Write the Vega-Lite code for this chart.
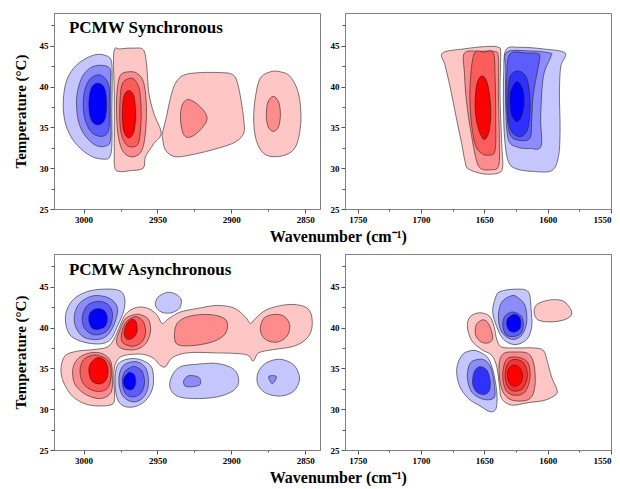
{
"$schema": "https://vega.github.io/schema/vega-lite/v6.json",
"background": "white",
"padding": {"left": 12, "top": 12, "right": 0, "bottom": 0},
"datasets": {
"tl": [
{"id":"b1","c":"n1","x":2981.3,"y":43.2},{"id":"b1","c":"n1","x":2985.1,"y":43.8},{"id":"b1","c":"n1","x":2991.8,"y":43.9},{"id":"b1","c":"n1","x":2999.7,"y":43.3},{"id":"b1","c":"n1","x":3006.9,"y":42.2},{"id":"b1","c":"n1","x":3011.7,"y":40.6},{"id":"b1","c":"n1","x":3013.7,"y":38.3},{"id":"b1","c":"n1","x":3012.8,"y":35.9},{"id":"b1","c":"n1","x":3008.7,"y":33.9},{"id":"b1","c":"n1","x":3002.0,"y":32.4},{"id":"b1","c":"n1","x":2994.1,"y":31.4},{"id":"b1","c":"n1","x":2986.2,"y":31.1},{"id":"b1","c":"n1","x":2982.2,"y":31.4},{"id":"b1","c":"n1","x":2980.8,"y":33.0},{"id":"b1","c":"n1","x":2980.8,"y":37.1},{"id":"b1","c":"n1","x":2980.6,"y":41.2},
{"id":"b2","c":"n2","x":2982.2,"y":42.2},{"id":"b2","c":"n2","x":2988.5,"y":42.6},{"id":"b2","c":"n2","x":2995.2,"y":42.3},{"id":"b2","c":"n2","x":3000.9,"y":41.2},{"id":"b2","c":"n2","x":3004.2,"y":39.3},{"id":"b2","c":"n2","x":3004.7,"y":37.5},{"id":"b2","c":"n2","x":3003.1,"y":35.5},{"id":"b2","c":"n2","x":2998.6,"y":33.9},{"id":"b2","c":"n2","x":2991.8,"y":32.8},{"id":"b2","c":"n2","x":2985.1,"y":32.7},{"id":"b2","c":"n2","x":2981.7,"y":33.5},{"id":"b2","c":"n2","x":2981.7,"y":37.1},{"id":"b2","c":"n2","x":2981.7,"y":40.4},
{"id":"b3","c":"n3","x":2988.5,"y":41.4},{"id":"b3","c":"n3","x":2995.2,"y":41.0},{"id":"b3","c":"n3","x":2999.3,"y":39.5},{"id":"b3","c":"n3","x":3000.2,"y":37.5},{"id":"b3","c":"n3","x":2998.6,"y":35.7},{"id":"b3","c":"n3","x":2994.1,"y":34.3},{"id":"b3","c":"n3","x":2987.3,"y":33.9},{"id":"b3","c":"n3","x":2983.0,"y":34.7},{"id":"b3","c":"n3","x":2982.6,"y":37.5},{"id":"b3","c":"n3","x":2983.0,"y":40.2},
{"id":"b4","c":"n5","x":2990.3,"y":40.4},{"id":"b4","c":"n5","x":2994.8,"y":39.8},{"id":"b4","c":"n5","x":2996.4,"y":37.8},{"id":"b4","c":"n5","x":2994.8,"y":35.9},{"id":"b4","c":"n5","x":2990.3,"y":35.3},{"id":"b4","c":"n5","x":2985.8,"y":35.9},{"id":"b4","c":"n5","x":2984.4,"y":37.8},{"id":"b4","c":"n5","x":2985.8,"y":39.8},
{"id":"r1","c":"p1","x":2979.5,"y":44.2},{"id":"r1","c":"p1","x":2975.0,"y":44.6},{"id":"r1","c":"p1","x":2965.9,"y":44.7},{"id":"r1","c":"p1","x":2959.6,"y":44.5},{"id":"r1","c":"p1","x":2957.4,"y":42.8},{"id":"r1","c":"p1","x":2955.8,"y":39.2},{"id":"r1","c":"p1","x":2952.4,"y":36.7},{"id":"r1","c":"p1","x":2947.5,"y":34.3},{"id":"r1","c":"p1","x":2952.4,"y":33.0},{"id":"r1","c":"p1","x":2958.1,"y":31.4},{"id":"r1","c":"p1","x":2959.6,"y":30.0},{"id":"r1","c":"p1","x":2968.2,"y":29.7},{"id":"r1","c":"p1","x":2976.1,"y":29.6},{"id":"r1","c":"p1","x":2979.0,"y":30.2},{"id":"r1","c":"p1","x":2979.2,"y":33.0},{"id":"r1","c":"p1","x":2979.2,"y":39.1},
{"id":"r2","c":"p2","x":2969.3,"y":41.8},{"id":"r2","c":"p2","x":2975.0,"y":41.4},{"id":"r2","c":"p2","x":2977.2,"y":39.6},{"id":"r2","c":"p2","x":2977.7,"y":37.1},{"id":"r2","c":"p2","x":2976.8,"y":34.3},{"id":"r2","c":"p2","x":2973.8,"y":32.2},{"id":"r2","c":"p2","x":2968.2,"y":31.4},{"id":"r2","c":"p2","x":2961.9,"y":31.8},{"id":"r2","c":"p2","x":2958.7,"y":33.5},{"id":"r2","c":"p2","x":2957.4,"y":37.1},{"id":"r2","c":"p2","x":2959.2,"y":40.4},{"id":"r2","c":"p2","x":2963.7,"y":41.6},
{"id":"r3","c":"p3","x":2968.6,"y":41.0},{"id":"r3","c":"p3","x":2973.8,"y":40.3},{"id":"r3","c":"p3","x":2975.4,"y":37.9},{"id":"r3","c":"p3","x":2975.0,"y":34.7},{"id":"r3","c":"p3","x":2971.6,"y":33.0},{"id":"r3","c":"p3","x":2967.1,"y":32.6},{"id":"r3","c":"p3","x":2962.6,"y":33.2},{"id":"r3","c":"p3","x":2961.0,"y":36.3},{"id":"r3","c":"p3","x":2961.9,"y":39.3},{"id":"r3","c":"p3","x":2964.8,"y":40.7},
{"id":"r4","c":"p5","x":2969.3,"y":39.5},{"id":"r4","c":"p5","x":2972.7,"y":38.8},{"id":"r4","c":"p5","x":2973.8,"y":36.6},{"id":"r4","c":"p5","x":2972.7,"y":34.5},{"id":"r4","c":"p5","x":2969.3,"y":33.7},{"id":"r4","c":"p5","x":2965.9,"y":34.5},{"id":"r4","c":"p5","x":2964.8,"y":36.6},{"id":"r4","c":"p5","x":2965.9,"y":38.8},
{"id":"m1","c":"p1","x":2946.6,"y":34.3},{"id":"m1","c":"p1","x":2943.9,"y":36.3},{"id":"m1","c":"p1","x":2941.2,"y":38.6},{"id":"m1","c":"p1","x":2937.8,"y":40.4},{"id":"m1","c":"p1","x":2932.2,"y":41.4},{"id":"m1","c":"p1","x":2920.9,"y":41.7},{"id":"m1","c":"p1","x":2907.4,"y":41.7},{"id":"m1","c":"p1","x":2899.5,"y":41.5},{"id":"m1","c":"p1","x":2896.1,"y":40.6},{"id":"m1","c":"p1","x":2893.4,"y":38.3},{"id":"m1","c":"p1","x":2891.6,"y":35.9},{"id":"m1","c":"p1","x":2891.6,"y":34.3},{"id":"m1","c":"p1","x":2897.3,"y":33.2},{"id":"m1","c":"p1","x":2909.7,"y":32.4},{"id":"m1","c":"p1","x":2925.4,"y":31.7},{"id":"m1","c":"p1","x":2937.8,"y":31.4},{"id":"m1","c":"p1","x":2944.5,"y":32.2},{"id":"m1","c":"p1","x":2946.6,"y":33.7},
{"id":"m2","c":"p2","x":2928.8,"y":38.4},{"id":"m2","c":"p2","x":2933.3,"y":37.7},{"id":"m2","c":"p2","x":2934.4,"y":35.9},{"id":"m2","c":"p2","x":2932.2,"y":34.1},{"id":"m2","c":"p2","x":2927.7,"y":33.8},{"id":"m2","c":"p2","x":2920.9,"y":34.7},{"id":"m2","c":"p2","x":2916.4,"y":36.1},{"id":"m2","c":"p2","x":2920.9,"y":37.5},
{"id":"k1","c":"p1","x":2873.6,"y":41.8},{"id":"k1","c":"p1","x":2880.4,"y":41.0},{"id":"k1","c":"p1","x":2883.7,"y":38.7},{"id":"k1","c":"p1","x":2884.9,"y":35.9},{"id":"k1","c":"p1","x":2883.1,"y":33.4},{"id":"k1","c":"p1","x":2878.1,"y":31.8},{"id":"k1","c":"p1","x":2870.2,"y":31.4},{"id":"k1","c":"p1","x":2861.2,"y":31.8},{"id":"k1","c":"p1","x":2855.6,"y":33.0},{"id":"k1","c":"p1","x":2852.9,"y":35.9},{"id":"k1","c":"p1","x":2854.5,"y":39.1},{"id":"k1","c":"p1","x":2860.1,"y":41.2},{"id":"k1","c":"p1","x":2866.8,"y":41.8},
{"id":"k2","c":"p2","x":2871.6,"y":38.8},{"id":"k2","c":"p2","x":2875.2,"y":38.1},{"id":"k2","c":"p2","x":2876.3,"y":36.6},{"id":"k2","c":"p2","x":2875.2,"y":35.1},{"id":"k2","c":"p2","x":2871.6,"y":34.5},{"id":"k2","c":"p2","x":2868.0,"y":35.1},{"id":"k2","c":"p2","x":2866.8,"y":36.6},{"id":"k2","c":"p2","x":2868.0,"y":38.1}
],
"tr": [
{"id":"r1","c":"p1","x":1683.1,"y":44.1},{"id":"r1","c":"p1","x":1666.5,"y":44.6},{"id":"r1","c":"p1","x":1648.1,"y":44.9},{"id":"r1","c":"p1","x":1638.9,"y":44.8},{"id":"r1","c":"p1","x":1637.1,"y":44.0},{"id":"r1","c":"p1","x":1637.6,"y":39.1},{"id":"r1","c":"p1","x":1636.3,"y":33.0},{"id":"r1","c":"p1","x":1635.5,"y":30.2},{"id":"r1","c":"p1","x":1638.9,"y":29.4},{"id":"r1","c":"p1","x":1650.7,"y":29.3},{"id":"r1","c":"p1","x":1662.6,"y":29.9},{"id":"r1","c":"p1","x":1665.2,"y":30.8},{"id":"r1","c":"p1","x":1667.9,"y":33.0},{"id":"r1","c":"p1","x":1672.3,"y":36.3},{"id":"r1","c":"p1","x":1677.1,"y":40.0},{"id":"r1","c":"p1","x":1681.0,"y":42.6},
{"id":"r2","c":"p2","x":1665.7,"y":44.1},{"id":"r2","c":"p2","x":1653.4,"y":44.3},{"id":"r2","c":"p2","x":1642.3,"y":44.3},{"id":"r2","c":"p2","x":1638.9,"y":43.6},{"id":"r2","c":"p2","x":1638.9,"y":39.1},{"id":"r2","c":"p2","x":1638.1,"y":33.0},{"id":"r2","c":"p2","x":1638.9,"y":30.2},{"id":"r2","c":"p2","x":1645.5,"y":29.8},{"id":"r2","c":"p2","x":1652.1,"y":29.9},{"id":"r2","c":"p2","x":1656.0,"y":30.8},{"id":"r2","c":"p2","x":1660.0,"y":33.9},{"id":"r2","c":"p2","x":1663.9,"y":37.9},{"id":"r2","c":"p2","x":1665.7,"y":41.6},
{"id":"r3","c":"p3","x":1658.1,"y":44.0},{"id":"r3","c":"p3","x":1650.2,"y":44.2},{"id":"r3","c":"p3","x":1642.9,"y":44.1},{"id":"r3","c":"p3","x":1641.5,"y":41.2},{"id":"r3","c":"p3","x":1641.0,"y":35.9},{"id":"r3","c":"p3","x":1641.5,"y":32.2},{"id":"r3","c":"p3","x":1646.0,"y":31.6},{"id":"r3","c":"p3","x":1652.1,"y":31.8},{"id":"r3","c":"p3","x":1657.4,"y":33.0},{"id":"r3","c":"p3","x":1660.7,"y":36.3},{"id":"r3","c":"p3","x":1661.3,"y":40.0},
{"id":"r4","c":"p5","x":1652.1,"y":41.3},{"id":"r4","c":"p5","x":1656.0,"y":40.2},{"id":"r4","c":"p5","x":1657.3,"y":37.5},{"id":"r4","c":"p5","x":1655.2,"y":35.1},{"id":"r4","c":"p5","x":1650.2,"y":33.5},{"id":"r4","c":"p5","x":1646.0,"y":34.7},{"id":"r4","c":"p5","x":1645.0,"y":37.5},{"id":"r4","c":"p5","x":1647.6,"y":40.4},
{"id":"b1","c":"n1","x":1632.9,"y":44.5},{"id":"b1","c":"n1","x":1621.8,"y":44.8},{"id":"b1","c":"n1","x":1603.4,"y":44.6},{"id":"b1","c":"n1","x":1586.3,"y":44.1},{"id":"b1","c":"n1","x":1589.7,"y":42.4},{"id":"b1","c":"n1","x":1590.7,"y":39.1},{"id":"b1","c":"n1","x":1590.2,"y":34.7},{"id":"b1","c":"n1","x":1591.5,"y":31.4},{"id":"b1","c":"n1","x":1596.8,"y":29.7},{"id":"b1","c":"n1","x":1611.3,"y":29.6},{"id":"b1","c":"n1","x":1624.4,"y":29.9},{"id":"b1","c":"n1","x":1631.0,"y":30.8},{"id":"b1","c":"n1","x":1633.9,"y":33.5},{"id":"b1","c":"n1","x":1634.9,"y":37.5},{"id":"b1","c":"n1","x":1634.7,"y":41.6},
{"id":"b2","c":"n2","x":1632.3,"y":44.2},{"id":"b2","c":"n2","x":1613.9,"y":44.35},{"id":"b2","c":"n2","x":1598.1,"y":44.1},{"id":"b2","c":"n2","x":1597.6,"y":43.6},{"id":"b2","c":"n2","x":1603.4,"y":41.2},{"id":"b2","c":"n2","x":1605.5,"y":36.3},{"id":"b2","c":"n2","x":1605.2,"y":32.7},{"id":"b2","c":"n2","x":1613.9,"y":32.4},{"id":"b2","c":"n2","x":1624.4,"y":32.6},{"id":"b2","c":"n2","x":1631.0,"y":33.5},{"id":"b2","c":"n2","x":1633.1,"y":37.1},{"id":"b2","c":"n2","x":1633.1,"y":42.0},
{"id":"b3","c":"n3","x":1629.7,"y":44.0},{"id":"b3","c":"n3","x":1616.5,"y":44.1},{"id":"b3","c":"n3","x":1607.3,"y":44.0},{"id":"b3","c":"n3","x":1606.5,"y":43.2},{"id":"b3","c":"n3","x":1611.3,"y":39.1},{"id":"b3","c":"n3","x":1612.6,"y":35.9},{"id":"b3","c":"n3","x":1613.9,"y":33.7},{"id":"b3","c":"n3","x":1621.8,"y":33.4},{"id":"b3","c":"n3","x":1629.7,"y":34.1},{"id":"b3","c":"n3","x":1632.3,"y":37.1},{"id":"b3","c":"n3","x":1632.3,"y":41.2},
{"id":"b4","c":"n4","x":1623.1,"y":41.9},{"id":"b4","c":"n4","x":1629.7,"y":41.2},{"id":"b4","c":"n4","x":1631.5,"y":38.7},{"id":"b4","c":"n4","x":1631.0,"y":35.9},{"id":"b4","c":"n4","x":1627.6,"y":34.3},{"id":"b4","c":"n4","x":1620.5,"y":33.9},{"id":"b4","c":"n4","x":1615.2,"y":35.1},{"id":"b4","c":"n4","x":1613.9,"y":38.3},{"id":"b4","c":"n4","x":1616.5,"y":41.0},
{"id":"b5","c":"n5","x":1624.4,"y":40.6},{"id":"b5","c":"n5","x":1628.9,"y":39.5},{"id":"b5","c":"n5","x":1629.7,"y":38.1},{"id":"b5","c":"n5","x":1628.4,"y":36.5},{"id":"b5","c":"n5","x":1624.4,"y":35.7},{"id":"b5","c":"n5","x":1620.5,"y":36.4},{"id":"b5","c":"n5","x":1618.6,"y":38.1},{"id":"b5","c":"n5","x":1619.9,"y":39.75}
],
"bl": [
{"id":"pk","c":"p1","x":3015.0,"y":35.4},{"id":"pk","c":"p1","x":3012.1,"y":36.6},{"id":"pk","c":"p1","x":3004.2,"y":37.1},{"id":"pk","c":"p1","x":2993.0,"y":37.3},{"id":"pk","c":"p1","x":2984.0,"y":37.6},{"id":"pk","c":"p1","x":2979.5,"y":38.55},{"id":"pk","c":"p1","x":2976.1,"y":39.9},{"id":"pk","c":"p1","x":2972.7,"y":41.3},{"id":"pk","c":"p1","x":2968.6,"y":42.1},{"id":"pk","c":"p1","x":2962.6,"y":42.5},{"id":"pk","c":"p1","x":2955.8,"y":42.3},{"id":"pk","c":"p1","x":2950.2,"y":41.5},{"id":"pk","c":"p1","x":2946.8,"y":40.5},{"id":"pk","c":"p1","x":2942.3,"y":41.1},{"id":"pk","c":"p1","x":2934.4,"y":41.9},{"id":"pk","c":"p1","x":2920.9,"y":42.4},{"id":"pk","c":"p1","x":2909.6,"y":42.7},{"id":"pk","c":"p1","x":2898.4,"y":42.4},{"id":"pk","c":"p1","x":2890.5,"y":41.3},{"id":"pk","c":"p1","x":2887.1,"y":40.5},{"id":"pk","c":"p1","x":2883.7,"y":41.1},{"id":"pk","c":"p1","x":2875.9,"y":42.2},{"id":"pk","c":"p1","x":2862.3,"y":42.8},{"id":"pk","c":"p1","x":2851.1,"y":42.6},{"id":"pk","c":"p1","x":2846.1,"y":41.7},{"id":"pk","c":"p1","x":2845.5,"y":39.9},{"id":"pk","c":"p1","x":2849.3,"y":38.6},{"id":"pk","c":"p1","x":2857.8,"y":37.7},{"id":"pk","c":"p1","x":2871.4,"y":37.3},{"id":"pk","c":"p1","x":2881.5,"y":36.9},{"id":"pk","c":"p1","x":2885.3,"y":35.9},{"id":"pk","c":"p1","x":2890.5,"y":36.7},{"id":"pk","c":"p1","x":2911.9,"y":36.9},{"id":"pk","c":"p1","x":2929.9,"y":36.9},{"id":"pk","c":"p1","x":2940.0,"y":36.3},{"id":"pk","c":"p1","x":2944.5,"y":35.2},{"id":"pk","c":"p1","x":2948.4,"y":35.4},{"id":"pk","c":"p1","x":2952.4,"y":36.2},{"id":"pk","c":"p1","x":2959.2,"y":36.7},{"id":"pk","c":"p1","x":2968.2,"y":36.7},{"id":"pk","c":"p1","x":2975.4,"y":36.35},{"id":"pk","c":"p1","x":2979.0,"y":35.2},{"id":"pk","c":"p1","x":2979.5,"y":33.5},{"id":"pk","c":"p1","x":2979.0,"y":31.7},{"id":"pk","c":"p1","x":2980.6,"y":30.6},{"id":"pk","c":"p1","x":2990.7,"y":30.4},{"id":"pk","c":"p1","x":2999.7,"y":30.7},{"id":"pk","c":"p1","x":3007.6,"y":31.6},{"id":"pk","c":"p1","x":3012.8,"y":33.0},{"id":"pk","c":"p1","x":3015.0,"y":34.2},
{"id":"ba1","c":"n1","x":2986.2,"y":44.7},{"id":"ba1","c":"n1","x":2997.5,"y":44.4},{"id":"ba1","c":"n1","x":3006.5,"y":43.5},{"id":"ba1","c":"n1","x":3011.4,"y":42.1},{"id":"ba1","c":"n1","x":3012.1,"y":40.5},{"id":"ba1","c":"n1","x":3008.7,"y":39.0},{"id":"ba1","c":"n1","x":2999.7,"y":38.2},{"id":"ba1","c":"n1","x":2988.5,"y":38.0},{"id":"ba1","c":"n1","x":2981.7,"y":38.55},{"id":"ba1","c":"n1","x":2977.2,"y":40.1},{"id":"ba1","c":"n1","x":2972.7,"y":42.1},{"id":"ba1","c":"n1","x":2972.3,"y":43.7},{"id":"ba1","c":"n1","x":2976.1,"y":44.55},
{"id":"ba2","c":"n2","x":2993.0,"y":43.9},{"id":"ba2","c":"n2","x":3002.0,"y":43.1},{"id":"ba2","c":"n2","x":3006.0,"y":41.7},{"id":"ba2","c":"n2","x":3005.4,"y":40.1},{"id":"ba2","c":"n2","x":2999.7,"y":38.8},{"id":"ba2","c":"n2","x":2989.6,"y":38.55},{"id":"ba2","c":"n2","x":2982.8,"y":39.25},{"id":"ba2","c":"n2","x":2978.3,"y":40.9},{"id":"ba2","c":"n2","x":2977.2,"y":42.5},{"id":"ba2","c":"n2","x":2982.8,"y":43.6},
{"id":"ba3","c":"n3","x":2990.7,"y":43.2},{"id":"ba3","c":"n3","x":2997.5,"y":42.7},{"id":"ba3","c":"n3","x":3000.9,"y":41.3},{"id":"ba3","c":"n3","x":2999.3,"y":39.9},{"id":"ba3","c":"n3","x":2993.0,"y":39.1},{"id":"ba3","c":"n3","x":2985.1,"y":39.45},{"id":"ba3","c":"n3","x":2981.3,"y":40.5},{"id":"ba3","c":"n3","x":2980.6,"y":41.9},{"id":"ba3","c":"n3","x":2984.0,"y":42.9},
{"id":"ba4","c":"n5","x":2990.7,"y":42.3},{"id":"ba4","c":"n5","x":2995.2,"y":41.9},{"id":"ba4","c":"n5","x":2996.4,"y":40.9},{"id":"ba4","c":"n5","x":2994.1,"y":39.9},{"id":"ba4","c":"n5","x":2989.6,"y":39.8},{"id":"ba4","c":"n5","x":2985.1,"y":40.2},{"id":"ba4","c":"n5","x":2984.0,"y":41.3},{"id":"ba4","c":"n5","x":2986.2,"y":42.1},
{"id":"rb2","c":"p2","x":2964.8,"y":41.6},{"id":"rb2","c":"p2","x":2971.5,"y":41.1},{"id":"rb2","c":"p2","x":2975.5,"y":39.7},{"id":"rb2","c":"p2","x":2977.7,"y":38.2},{"id":"rb2","c":"p2","x":2973.8,"y":37.4},{"id":"rb2","c":"p2","x":2964.8,"y":37.3},{"id":"rb2","c":"p2","x":2958.1,"y":38.0},{"id":"rb2","c":"p2","x":2954.7,"y":39.45},{"id":"rb2","c":"p2","x":2955.8,"y":40.9},{"id":"rb2","c":"p2","x":2960.3,"y":41.5},
{"id":"rb3","c":"p3","x":2965.9,"y":41.3},{"id":"rb3","c":"p3","x":2971.0,"y":40.7},{"id":"rb3","c":"p3","x":2974.0,"y":39.5},{"id":"rb3","c":"p3","x":2973.8,"y":38.2},{"id":"rb3","c":"p3","x":2967.1,"y":37.7},{"id":"rb3","c":"p3","x":2961.0,"y":38.15},{"id":"rb3","c":"p3","x":2958.1,"y":39.25},{"id":"rb3","c":"p3","x":2959.2,"y":40.6},{"id":"rb3","c":"p3","x":2962.6,"y":41.2},
{"id":"rb4","c":"p5","x":2967.5,"y":41.0},{"id":"rb4","c":"p5","x":2970.5,"y":40.5},{"id":"rb4","c":"p5","x":2972.5,"y":39.5},{"id":"rb4","c":"p5","x":2971.5,"y":38.7},{"id":"rb4","c":"p5","x":2968.6,"y":38.55},{"id":"rb4","c":"p5","x":2964.8,"y":39.05},{"id":"rb4","c":"p5","x":2963.7,"y":39.9},{"id":"rb4","c":"p5","x":2964.8,"y":40.8},
{"id":"rc2","c":"p2","x":2995.2,"y":36.9},{"id":"rc2","c":"p2","x":3003.1,"y":36.3},{"id":"rc2","c":"p2","x":3007.2,"y":35.0},{"id":"rc2","c":"p2","x":3006.0,"y":33.1},{"id":"rc2","c":"p2","x":2998.6,"y":31.8},{"id":"rc2","c":"p2","x":2988.5,"y":31.3},{"id":"rc2","c":"p2","x":2981.3,"y":32.1},{"id":"rc2","c":"p2","x":2980.6,"y":34.15},{"id":"rc2","c":"p2","x":2981.7,"y":35.9},{"id":"rc2","c":"p2","x":2987.3,"y":36.8},
{"id":"rc3","c":"p3","x":2994.1,"y":36.6},{"id":"rc3","c":"p3","x":3000.2,"y":36.0},{"id":"rc3","c":"p3","x":3002.4,"y":34.6},{"id":"rc3","c":"p3","x":2999.7,"y":33.0},{"id":"rc3","c":"p3","x":2991.8,"y":32.2},{"id":"rc3","c":"p3","x":2984.0,"y":32.5},{"id":"rc3","c":"p3","x":2981.3,"y":34.15},{"id":"rc3","c":"p3","x":2982.8,"y":35.8},{"id":"rc3","c":"p3","x":2988.5,"y":36.5},
{"id":"rc4","c":"p5","x":2990.7,"y":36.3},{"id":"rc4","c":"p5","x":2995.2,"y":35.6},{"id":"rc4","c":"p5","x":2996.4,"y":34.6},{"id":"rc4","c":"p5","x":2994.1,"y":33.4},{"id":"rc4","c":"p5","x":2988.5,"y":33.1},{"id":"rc4","c":"p5","x":2984.4,"y":33.7},{"id":"rc4","c":"p5","x":2983.5,"y":34.9},{"id":"rc4","c":"p5","x":2985.8,"y":36.0},
{"id":"bb1","c":"n1","x":2967.1,"y":36.2},{"id":"bb1","c":"n1","x":2975.0,"y":35.8},{"id":"bb1","c":"n1","x":2978.1,"y":34.8},{"id":"bb1","c":"n1","x":2978.6,"y":32.9},{"id":"bb1","c":"n1","x":2976.8,"y":31.1},{"id":"bb1","c":"n1","x":2971.6,"y":30.3},{"id":"bb1","c":"n1","x":2963.7,"y":30.4},{"id":"bb1","c":"n1","x":2956.9,"y":31.3},{"id":"bb1","c":"n1","x":2952.9,"y":32.9},{"id":"bb1","c":"n1","x":2953.6,"y":35.0},{"id":"bb1","c":"n1","x":2959.2,"y":35.9},
{"id":"bb2","c":"n2","x":2967.1,"y":35.8},{"id":"bb2","c":"n2","x":2973.8,"y":35.2},{"id":"bb2","c":"n2","x":2976.1,"y":33.5},{"id":"bb2","c":"n2","x":2973.8,"y":31.7},{"id":"bb2","c":"n2","x":2967.1,"y":30.9},{"id":"bb2","c":"n2","x":2960.3,"y":31.3},{"id":"bb2","c":"n2","x":2956.3,"y":32.7},{"id":"bb2","c":"n2","x":2956.9,"y":34.6},{"id":"bb2","c":"n2","x":2961.0,"y":35.6},
{"id":"bb3","c":"n3","x":2967.1,"y":35.2},{"id":"bb3","c":"n3","x":2972.3,"y":34.55},{"id":"bb3","c":"n3","x":2973.8,"y":33.3},{"id":"bb3","c":"n3","x":2971.6,"y":31.9},{"id":"bb3","c":"n3","x":2966.4,"y":31.5},{"id":"bb3","c":"n3","x":2961.0,"y":32.0},{"id":"bb3","c":"n3","x":2958.7,"y":33.3},{"id":"bb3","c":"n3","x":2960.3,"y":34.6},{"id":"bb3","c":"n3","x":2963.7,"y":35.1},
{"id":"bb4","c":"n5","x":2969.3,"y":34.5},{"id":"bb4","c":"n5","x":2972.4,"y":33.9},{"id":"bb4","c":"n5","x":2973.0,"y":33.1},{"id":"bb4","c":"n5","x":2970.9,"y":32.5},{"id":"bb4","c":"n5","x":2967.1,"y":32.4},{"id":"bb4","c":"n5","x":2964.8,"y":33.1},{"id":"bb4","c":"n5","x":2965.3,"y":34.1},{"id":"bb4","c":"n5","x":2967.1,"y":34.4},
{"id":"bs","c":"n1","x":2943.4,"y":44.3},{"id":"bs","c":"n1","x":2949.7,"y":43.7},{"id":"bs","c":"n1","x":2951.3,"y":42.7},{"id":"bs","c":"n1","x":2947.5,"y":41.9},{"id":"bs","c":"n1","x":2940.7,"y":41.8},{"id":"bs","c":"n1","x":2934.9,"y":42.4},{"id":"bs","c":"n1","x":2934.0,"y":43.45},{"id":"bs","c":"n1","x":2937.8,"y":44.1},
{"id":"rd2","c":"p2","x":2929.9,"y":41.3},{"id":"rd2","c":"p2","x":2936.7,"y":40.5},{"id":"rd2","c":"p2","x":2938.5,"y":39.0},{"id":"rd2","c":"p2","x":2936.2,"y":37.9},{"id":"rd2","c":"p2","x":2925.4,"y":37.8},{"id":"rd2","c":"p2","x":2911.9,"y":38.3},{"id":"rd2","c":"p2","x":2904.0,"y":39.25},{"id":"rd2","c":"p2","x":2902.9,"y":40.7},{"id":"rd2","c":"p2","x":2908.5,"y":41.4},{"id":"rd2","c":"p2","x":2918.6,"y":41.6},
{"id":"re2","c":"p2","x":2871.4,"y":41.6},{"id":"re2","c":"p2","x":2878.1,"y":41.1},{"id":"re2","c":"p2","x":2880.4,"y":39.7},{"id":"re2","c":"p2","x":2877.0,"y":38.55},{"id":"re2","c":"p2","x":2869.1,"y":38.2},{"id":"re2","c":"p2","x":2862.3,"y":38.95},{"id":"re2","c":"p2","x":2860.5,"y":40.35},{"id":"re2","c":"p2","x":2864.6,"y":41.4},
{"id":"bm1","c":"n1","x":2923.2,"y":35.5},{"id":"bm1","c":"n1","x":2934.4,"y":35.2},{"id":"bm1","c":"n1","x":2940.0,"y":34.15},{"id":"bm1","c":"n1","x":2941.6,"y":32.7},{"id":"bm1","c":"n1","x":2936.7,"y":31.6},{"id":"bm1","c":"n1","x":2925.4,"y":31.3},{"id":"bm1","c":"n1","x":2909.6,"y":31.5},{"id":"bm1","c":"n1","x":2898.4,"y":32.3},{"id":"bm1","c":"n1","x":2895.0,"y":33.5},{"id":"bm1","c":"n1","x":2898.4,"y":34.9},{"id":"bm1","c":"n1","x":2909.6,"y":35.6},
{"id":"bm2","c":"n2","x":2928.8,"y":34.1},{"id":"bm2","c":"n2","x":2932.2,"y":33.5},{"id":"bm2","c":"n2","x":2931.0,"y":32.8},{"id":"bm2","c":"n2","x":2924.3,"y":32.8},{"id":"bm2","c":"n2","x":2920.9,"y":33.1},{"id":"bm2","c":"n2","x":2922.0,"y":33.9},
{"id":"bn1","c":"n1","x":2869.1,"y":36.1},{"id":"bn1","c":"n1","x":2877.0,"y":35.6},{"id":"bn1","c":"n1","x":2881.9,"y":34.5},{"id":"bn1","c":"n1","x":2882.2,"y":33.1},{"id":"bn1","c":"n1","x":2877.0,"y":32.0},{"id":"bn1","c":"n1","x":2866.8,"y":31.6},{"id":"bn1","c":"n1","x":2857.8,"y":32.2},{"id":"bn1","c":"n1","x":2853.8,"y":33.7},{"id":"bn1","c":"n1","x":2856.7,"y":35.2},{"id":"bn1","c":"n1","x":2862.3,"y":35.9},
{"id":"bn2","c":"n2","x":2874.7,"y":34.0},{"id":"bn2","c":"n2","x":2869.5,"y":34.0},{"id":"bn2","c":"n2","x":2872.3,"y":33.1}
],
"br": [
{"id":"pk","c":"p1","x":1653.9,"y":41.8},{"id":"pk","c":"p1","x":1646.0,"y":41.4},{"id":"pk","c":"p1","x":1642.3,"y":40.1},{"id":"pk","c":"p1","x":1640.2,"y":38.55},{"id":"pk","c":"p1","x":1636.3,"y":37.6},{"id":"pk","c":"p1","x":1624.4,"y":37.5},{"id":"pk","c":"p1","x":1611.3,"y":37.5},{"id":"pk","c":"p1","x":1603.4,"y":37.2},{"id":"pk","c":"p1","x":1600.2,"y":35.8},{"id":"pk","c":"p1","x":1596.8,"y":33.9},{"id":"pk","c":"p1","x":1592.9,"y":32.5},{"id":"pk","c":"p1","x":1593.4,"y":31.8},{"id":"pk","c":"p1","x":1602.1,"y":31.1},{"id":"pk","c":"p1","x":1615.2,"y":30.8},{"id":"pk","c":"p1","x":1628.4,"y":30.5},{"id":"pk","c":"p1","x":1636.3,"y":31.3},{"id":"pk","c":"p1","x":1638.1,"y":32.9},{"id":"pk","c":"p1","x":1640.2,"y":35.2},{"id":"pk","c":"p1","x":1644.2,"y":36.6},{"id":"pk","c":"p1","x":1652.1,"y":37.3},{"id":"pk","c":"p1","x":1660.0,"y":38.4},{"id":"pk","c":"p1","x":1663.4,"y":40.1},{"id":"pk","c":"p1","x":1661.3,"y":41.3},
{"id":"rs","c":"p1","x":1600.7,"y":43.3},{"id":"rs","c":"p1","x":1608.6,"y":42.8},{"id":"rs","c":"p1","x":1610.7,"y":41.9},{"id":"rs","c":"p1","x":1607.3,"y":40.9},{"id":"rs","c":"p1","x":1595.5,"y":40.7},{"id":"rs","c":"p1","x":1584.4,"y":41.1},{"id":"rs","c":"p1","x":1581.0,"y":41.9},{"id":"rs","c":"p1","x":1586.3,"y":43.1},{"id":"rs","c":"p1","x":1592.9,"y":43.4},
{"id":"rl2","c":"p2","x":1652.1,"y":40.9},{"id":"rl2","c":"p2","x":1656.5,"y":40.3},{"id":"rl2","c":"p2","x":1656.8,"y":39.05},{"id":"rl2","c":"p2","x":1652.1,"y":38.2},{"id":"rl2","c":"p2","x":1646.0,"y":38.15},{"id":"rl2","c":"p2","x":1643.4,"y":38.8},{"id":"rl2","c":"p2","x":1645.5,"y":40.1},{"id":"rl2","c":"p2","x":1648.6,"y":40.8},
{"id":"r2","c":"p2","x":1625.8,"y":37.0},{"id":"r2","c":"p2","x":1635.0,"y":36.8},{"id":"r2","c":"p2","x":1638.4,"y":35.4},{"id":"r2","c":"p2","x":1637.0,"y":32.9},{"id":"r2","c":"p2","x":1632.5,"y":31.5},{"id":"r2","c":"p2","x":1624.4,"y":31.0},{"id":"r2","c":"p2","x":1613.9,"y":31.3},{"id":"r2","c":"p2","x":1610.0,"y":32.9},{"id":"r2","c":"p2","x":1610.7,"y":35.4},{"id":"r2","c":"p2","x":1615.2,"y":36.8},
{"id":"r3","c":"p3","x":1625.8,"y":36.4},{"id":"r3","c":"p3","x":1632.9,"y":36.0},{"id":"r3","c":"p3","x":1635.5,"y":34.1},{"id":"r3","c":"p3","x":1632.9,"y":32.3},{"id":"r3","c":"p3","x":1625.8,"y":31.7},{"id":"r3","c":"p3","x":1617.9,"y":32.1},{"id":"r3","c":"p3","x":1613.9,"y":33.9},{"id":"r3","c":"p3","x":1616.0,"y":35.8},
{"id":"r4","c":"p4","x":1625.8,"y":36.1},{"id":"r4","c":"p4","x":1631.5,"y":35.6},{"id":"r4","c":"p4","x":1633.6,"y":34.15},{"id":"r4","c":"p4","x":1631.5,"y":32.7},{"id":"r4","c":"p4","x":1625.8,"y":32.2},{"id":"r4","c":"p4","x":1619.2,"y":32.6},{"id":"r4","c":"p4","x":1616.0,"y":34.1},{"id":"r4","c":"p4","x":1618.6,"y":35.6},
{"id":"r5","c":"p5","x":1626.3,"y":35.4},{"id":"r5","c":"p5","x":1630.5,"y":35.0},{"id":"r5","c":"p5","x":1631.8,"y":34.1},{"id":"r5","c":"p5","x":1629.7,"y":33.1},{"id":"r5","c":"p5","x":1625.8,"y":32.8},{"id":"r5","c":"p5","x":1621.3,"y":33.2},{"id":"r5","c":"p5","x":1619.7,"y":34.15},{"id":"r5","c":"p5","x":1621.8,"y":35.0},
{"id":"bu1","c":"n1","x":1637.6,"y":44.4},{"id":"bu1","c":"n1","x":1624.4,"y":44.7},{"id":"bu1","c":"n1","x":1615.2,"y":44.35},{"id":"bu1","c":"n1","x":1613.1,"y":42.3},{"id":"bu1","c":"n1","x":1612.6,"y":40.1},{"id":"bu1","c":"n1","x":1616.5,"y":38.55},{"id":"bu1","c":"n1","x":1625.8,"y":37.9},{"id":"bu1","c":"n1","x":1634.9,"y":38.55},{"id":"bu1","c":"n1","x":1640.2,"y":40.1},{"id":"bu1","c":"n1","x":1643.4,"y":41.9},{"id":"bu1","c":"n1","x":1641.5,"y":43.5},
{"id":"bu2","c":"n2","x":1628.4,"y":43.9},{"id":"bu2","c":"n2","x":1636.3,"y":43.1},{"id":"bu2","c":"n2","x":1638.9,"y":41.3},{"id":"bu2","c":"n2","x":1636.3,"y":39.45},{"id":"bu2","c":"n2","x":1628.4,"y":38.55},{"id":"bu2","c":"n2","x":1620.5,"y":39.05},{"id":"bu2","c":"n2","x":1616.5,"y":40.7},{"id":"bu2","c":"n2","x":1617.9,"y":42.7},{"id":"bu2","c":"n2","x":1623.9,"y":43.7},
{"id":"bu3","c":"n3","x":1627.6,"y":41.9},{"id":"bu3","c":"n3","x":1633.6,"y":41.4},{"id":"bu3","c":"n3","x":1635.5,"y":40.3},{"id":"bu3","c":"n3","x":1632.9,"y":39.1},{"id":"bu3","c":"n3","x":1626.5,"y":38.9},{"id":"bu3","c":"n3","x":1621.0,"y":39.3},{"id":"bu3","c":"n3","x":1619.2,"y":40.35},{"id":"bu3","c":"n3","x":1621.0,"y":41.4},
{"id":"bu4","c":"n5","x":1627.1,"y":41.6},{"id":"bu4","c":"n5","x":1631.5,"y":41.1},{"id":"bu4","c":"n5","x":1632.3,"y":40.35},{"id":"bu4","c":"n5","x":1630.2,"y":39.6},{"id":"bu4","c":"n5","x":1625.8,"y":39.45},{"id":"bu4","c":"n5","x":1621.8,"y":39.9},{"id":"bu4","c":"n5","x":1621.3,"y":40.8},{"id":"bu4","c":"n5","x":1623.1,"y":41.4},
{"id":"bl1","c":"n1","x":1658.6,"y":37.2},{"id":"bl1","c":"n1","x":1667.1,"y":36.7},{"id":"bl1","c":"n1","x":1671.8,"y":35.0},{"id":"bl1","c":"n1","x":1669.7,"y":32.9},{"id":"bl1","c":"n1","x":1662.6,"y":31.3},{"id":"bl1","c":"n1","x":1653.4,"y":30.4},{"id":"bl1","c":"n1","x":1645.5,"y":29.7},{"id":"bl1","c":"n1","x":1640.7,"y":30.1},{"id":"bl1","c":"n1","x":1640.2,"y":32.1},{"id":"bl1","c":"n1","x":1642.9,"y":34.6},{"id":"bl1","c":"n1","x":1646.8,"y":36.2},{"id":"bl1","c":"n1","x":1651.3,"y":36.8},
{"id":"bl2","c":"n2","x":1654.7,"y":36.1},{"id":"bl2","c":"n2","x":1661.3,"y":35.6},{"id":"bl2","c":"n2","x":1663.4,"y":33.9},{"id":"bl2","c":"n2","x":1660.0,"y":32.1},{"id":"bl2","c":"n2","x":1650.7,"y":31.2},{"id":"bl2","c":"n2","x":1642.3,"y":31.4},{"id":"bl2","c":"n2","x":1642.0,"y":32.9},{"id":"bl2","c":"n2","x":1644.2,"y":34.8},{"id":"bl2","c":"n2","x":1648.6,"y":35.9},
{"id":"bl3","c":"n4","x":1653.9,"y":35.2},{"id":"bl3","c":"n4","x":1658.1,"y":34.5},{"id":"bl3","c":"n4","x":1659.2,"y":33.1},{"id":"bl3","c":"n4","x":1656.0,"y":32.1},{"id":"bl3","c":"n4","x":1650.2,"y":31.8},{"id":"bl3","c":"n4","x":1646.0,"y":32.3},{"id":"bl3","c":"n4","x":1645.5,"y":33.5},{"id":"bl3","c":"n4","x":1648.1,"y":34.8}
]
},
"vconcat": [
{
"title": {"text": "Wavenumber (cm⁻¹)", "orient": "bottom", "anchor": "middle", "font": "Liberation Serif", "fontSize": 16, "fontWeight": "bold", "color": "#000", "offset": 4, "dx": 26},
"spacing": 8,
"hconcat": [
{
"width": 266, "height": 196,
"data": {"name": "tl"},
"encoding": {
"x": {"field": "x", "type": "quantitative", "scale": {"domain": [3020, 2840], "nice": false, "zero": false}, "axis": {"title": null, "format": "d", "values": [3000, 2975, 2950, 2925, 2900, 2875, 2850], "labelExpr": "datum.value % 50 == 0 ? datum.label : ''", "tickSize": {"condition": {"test": "datum.value % 50 == 0", "value": 4}, "value": 2}}},
"y": {"field": "y", "type": "quantitative", "scale": {"domain": [25, 49], "nice": false, "zero": false}, "axis": {"title": "Temperature (°C)", "format": "d", "values": [25, 27.5, 30, 32.5, 35, 37.5, 40, 42.5, 45, 47.5], "labelExpr": "datum.value % 5 == 0 ? datum.label : ''", "tickSize": {"condition": {"test": "datum.value % 5 == 0", "value": 4}, "value": 3}}},
"fill": {"field": "c", "type": "nominal", "scale": {"domain": ["n1", "n2", "n3", "n4", "n5", "p1", "p2", "p3", "p4", "p5"], "range": ["#c6c6ff", "#8c8cff", "#5c5cff", "#3030ff", "#0000ff", "#ffc6c6", "#ff8c8c", "#ff5c5c", "#ff3030", "#ff0000"]}, "legend": null},
"detail": {"field": "id"},
"order": {"value": null}
},
"layer": [
{"transform": [{"filter": {"field": "c", "oneOf": ["n1", "p1"]}}], "mark": {"type": "line", "interpolate": "cardinal-closed", "stroke": "#222", "strokeWidth": 0.6, "clip": true}},
{"transform": [{"filter": {"field": "c", "oneOf": ["n2", "p2"]}}], "mark": {"type": "line", "interpolate": "cardinal-closed", "stroke": "#222", "strokeWidth": 0.6, "clip": true}},
{"transform": [{"filter": {"field": "c", "oneOf": ["n3", "p3"]}}], "mark": {"type": "line", "interpolate": "cardinal-closed", "stroke": "#222", "strokeWidth": 0.6, "clip": true}},
{"transform": [{"filter": {"field": "c", "oneOf": ["n4", "p4"]}}], "mark": {"type": "line", "interpolate": "cardinal-closed", "stroke": "#222", "strokeWidth": 0.6, "clip": true}},
{"transform": [{"filter": {"field": "c", "oneOf": ["n5", "p5"]}}], "mark": {"type": "line", "interpolate": "cardinal-closed", "stroke": "#222", "strokeWidth": 0.6, "clip": true}},
{"data": {"values": [{"x": 3009.9, "y": 47.2, "t": "PCMW Synchronous"}]}, "mark": {"type": "text", "align": "left", "baseline": "middle", "font": "Liberation Serif", "fontWeight": "bold", "fontSize": 17}, "encoding": {"text": {"field": "t"}, "fill": {"value": "#000"}}}
]
},
{
"width": 266, "height": 196,
"data": {"name": "tr"},
"encoding": {
"x": {"field": "x", "type": "quantitative", "scale": {"domain": [1760, 1550], "nice": false, "zero": false}, "axis": {"title": null, "format": "d", "values": [1750, 1725, 1700, 1675, 1650, 1625, 1600, 1575, 1550], "labelExpr": "datum.value % 50 == 0 ? datum.label : ''", "tickSize": {"condition": {"test": "datum.value % 50 == 0", "value": 4}, "value": 2}}},
"y": {"field": "y", "type": "quantitative", "scale": {"domain": [25, 49], "nice": false, "zero": false}, "axis": {"title": null, "format": "d", "values": [25, 27.5, 30, 32.5, 35, 37.5, 40, 42.5, 45, 47.5], "labelExpr": "datum.value % 5 == 0 ? datum.label : ''", "tickSize": {"condition": {"test": "datum.value % 5 == 0", "value": 4}, "value": 3}}},
"fill": {"field": "c", "type": "nominal", "scale": {"domain": ["n1", "n2", "n3", "n4", "n5", "p1", "p2", "p3", "p4", "p5"], "range": ["#c6c6ff", "#8c8cff", "#5c5cff", "#3030ff", "#0000ff", "#ffc6c6", "#ff8c8c", "#ff5c5c", "#ff3030", "#ff0000"]}, "legend": null},
"detail": {"field": "id"},
"order": {"value": null}
},
"layer": [
{"transform": [{"filter": {"field": "c", "oneOf": ["n1", "p1"]}}], "mark": {"type": "line", "interpolate": "cardinal-closed", "stroke": "#222", "strokeWidth": 0.6, "clip": true}},
{"transform": [{"filter": {"field": "c", "oneOf": ["n2", "p2"]}}], "mark": {"type": "line", "interpolate": "cardinal-closed", "stroke": "#222", "strokeWidth": 0.6, "clip": true}},
{"transform": [{"filter": {"field": "c", "oneOf": ["n3", "p3"]}}], "mark": {"type": "line", "interpolate": "cardinal-closed", "stroke": "#222", "strokeWidth": 0.6, "clip": true}},
{"transform": [{"filter": {"field": "c", "oneOf": ["n4", "p4"]}}], "mark": {"type": "line", "interpolate": "cardinal-closed", "stroke": "#222", "strokeWidth": 0.6, "clip": true}},
{"transform": [{"filter": {"field": "c", "oneOf": ["n5", "p5"]}}], "mark": {"type": "line", "interpolate": "cardinal-closed", "stroke": "#222", "strokeWidth": 0.6, "clip": true}}
]
}
]
},
{
"title": {"text": "Wavenumber (cm⁻¹)", "orient": "bottom", "anchor": "middle", "font": "Liberation Serif", "fontSize": 16, "fontWeight": "bold", "color": "#000", "offset": 4, "dx": 26},
"spacing": 8,
"hconcat": [
{
"width": 266, "height": 196,
"data": {"name": "bl"},
"encoding": {
"x": {"field": "x", "type": "quantitative", "scale": {"domain": [3020, 2840], "nice": false, "zero": false}, "axis": {"title": null, "format": "d", "values": [3000, 2975, 2950, 2925, 2900, 2875, 2850], "labelExpr": "datum.value % 50 == 0 ? datum.label : ''", "tickSize": {"condition": {"test": "datum.value % 50 == 0", "value": 4}, "value": 2}}},
"y": {"field": "y", "type": "quantitative", "scale": {"domain": [25, 49], "nice": false, "zero": false}, "axis": {"title": "Temperature (°C)", "format": "d", "values": [25, 27.5, 30, 32.5, 35, 37.5, 40, 42.5, 45, 47.5], "labelExpr": "datum.value % 5 == 0 ? datum.label : ''", "tickSize": {"condition": {"test": "datum.value % 5 == 0", "value": 4}, "value": 3}}},
"fill": {"field": "c", "type": "nominal", "scale": {"domain": ["n1", "n2", "n3", "n4", "n5", "p1", "p2", "p3", "p4", "p5"], "range": ["#c6c6ff", "#8c8cff", "#5c5cff", "#3030ff", "#0000ff", "#ffc6c6", "#ff8c8c", "#ff5c5c", "#ff3030", "#ff0000"]}, "legend": null},
"detail": {"field": "id"},
"order": {"value": null}
},
"layer": [
{"transform": [{"filter": {"field": "c", "oneOf": ["n1", "p1"]}}], "mark": {"type": "line", "interpolate": "cardinal-closed", "stroke": "#222", "strokeWidth": 0.6, "clip": true}},
{"transform": [{"filter": {"field": "c", "oneOf": ["n2", "p2"]}}], "mark": {"type": "line", "interpolate": "cardinal-closed", "stroke": "#222", "strokeWidth": 0.6, "clip": true}},
{"transform": [{"filter": {"field": "c", "oneOf": ["n3", "p3"]}}], "mark": {"type": "line", "interpolate": "cardinal-closed", "stroke": "#222", "strokeWidth": 0.6, "clip": true}},
{"transform": [{"filter": {"field": "c", "oneOf": ["n4", "p4"]}}], "mark": {"type": "line", "interpolate": "cardinal-closed", "stroke": "#222", "strokeWidth": 0.6, "clip": true}},
{"transform": [{"filter": {"field": "c", "oneOf": ["n5", "p5"]}}], "mark": {"type": "line", "interpolate": "cardinal-closed", "stroke": "#222", "strokeWidth": 0.6, "clip": true}},
{"data": {"values": [{"x": 3009.9, "y": 47.0, "t": "PCMW Asynchronous"}]}, "mark": {"type": "text", "align": "left", "baseline": "middle", "font": "Liberation Serif", "fontWeight": "bold", "fontSize": 17}, "encoding": {"text": {"field": "t"}, "fill": {"value": "#000"}}}
]
},
{
"width": 266, "height": 196,
"data": {"name": "br"},
"encoding": {
"x": {"field": "x", "type": "quantitative", "scale": {"domain": [1760, 1550], "nice": false, "zero": false}, "axis": {"title": null, "format": "d", "values": [1750, 1725, 1700, 1675, 1650, 1625, 1600, 1575, 1550], "labelExpr": "datum.value % 50 == 0 ? datum.label : ''", "tickSize": {"condition": {"test": "datum.value % 50 == 0", "value": 4}, "value": 2}}},
"y": {"field": "y", "type": "quantitative", "scale": {"domain": [25, 49], "nice": false, "zero": false}, "axis": {"title": null, "format": "d", "values": [25, 27.5, 30, 32.5, 35, 37.5, 40, 42.5, 45, 47.5], "labelExpr": "datum.value % 5 == 0 ? datum.label : ''", "tickSize": {"condition": {"test": "datum.value % 5 == 0", "value": 4}, "value": 3}}},
"fill": {"field": "c", "type": "nominal", "scale": {"domain": ["n1", "n2", "n3", "n4", "n5", "p1", "p2", "p3", "p4", "p5"], "range": ["#c6c6ff", "#8c8cff", "#5c5cff", "#3030ff", "#0000ff", "#ffc6c6", "#ff8c8c", "#ff5c5c", "#ff3030", "#ff0000"]}, "legend": null},
"detail": {"field": "id"},
"order": {"value": null}
},
"layer": [
{"transform": [{"filter": {"field": "c", "oneOf": ["n1", "p1"]}}], "mark": {"type": "line", "interpolate": "cardinal-closed", "stroke": "#222", "strokeWidth": 0.6, "clip": true}},
{"transform": [{"filter": {"field": "c", "oneOf": ["n2", "p2"]}}], "mark": {"type": "line", "interpolate": "cardinal-closed", "stroke": "#222", "strokeWidth": 0.6, "clip": true}},
{"transform": [{"filter": {"field": "c", "oneOf": ["n3", "p3"]}}], "mark": {"type": "line", "interpolate": "cardinal-closed", "stroke": "#222", "strokeWidth": 0.6, "clip": true}},
{"transform": [{"filter": {"field": "c", "oneOf": ["n4", "p4"]}}], "mark": {"type": "line", "interpolate": "cardinal-closed", "stroke": "#222", "strokeWidth": 0.6, "clip": true}},
{"transform": [{"filter": {"field": "c", "oneOf": ["n5", "p5"]}}], "mark": {"type": "line", "interpolate": "cardinal-closed", "stroke": "#222", "strokeWidth": 0.6, "clip": true}}
]
}
]
}
],
"spacing": 8,
"config": {
"view": {"stroke": "#7f7f7f", "strokeWidth": 1},
"axis": {"domainColor": "#7f7f7f", "tickColor": "#555555", "labelFont": "Liberation Serif", "labelFontWeight": "bold", "labelFontSize": 9, "labelColor": "#000000", "labelPadding": 2, "grid": false, "titleFont": "Liberation Serif", "titleFontWeight": "bold", "titleFontSize": 15, "titleColor": "#000000", "titlePadding": 11}
}
}
